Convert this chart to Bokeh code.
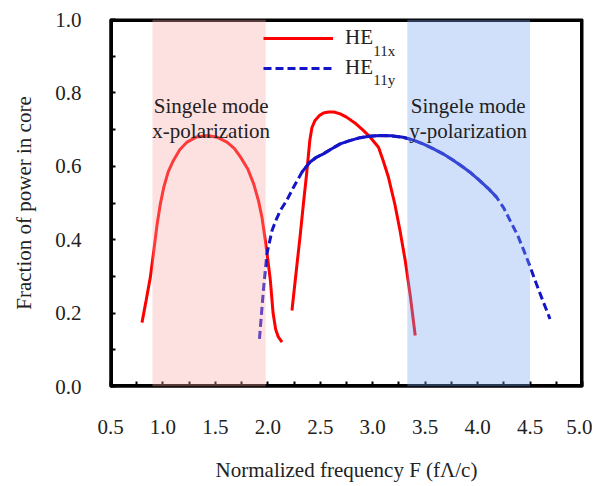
from bokeh.plotting import figure
from bokeh.models import (BoxAnnotation, Legend, LegendItem, Label, FixedTicker,
                          Range1d, PrintfTickFormatter)
from bokeh.embed import file_html
from bokeh.resources import INLINE

# ---------------- data ----------------
he11x_a_x = [0.80, 0.84, 0.88, 0.915, 0.945, 0.975, 1.008, 1.05, 1.10, 1.16, 1.23, 1.32,
             1.42, 1.52, 1.61, 1.68, 1.74, 1.81, 1.865, 1.91, 1.944, 1.976, 2.00, 2.024,
             2.05, 2.075, 2.10, 2.135]
he11x_a_y = [0.174, 0.235, 0.298, 0.375, 0.443, 0.497, 0.543, 0.585, 0.616, 0.645, 0.666,
             0.680, 0.684, 0.679, 0.666, 0.649, 0.625, 0.592, 0.552, 0.507, 0.461, 0.398,
             0.345, 0.289, 0.200, 0.155, 0.135, 0.121]

he11x_b_x = [2.23, 2.27, 2.31, 2.34, 2.37, 2.40, 2.42, 2.45, 2.49, 2.53, 2.58, 2.63, 2.69,
             2.75, 2.83, 2.91, 2.98, 3.055, 3.10, 3.15, 3.21, 3.26, 3.31, 3.36, 3.405]
he11x_b_y = [0.207, 0.312, 0.416, 0.500, 0.580, 0.670, 0.705, 0.725, 0.738, 0.745, 0.748,
             0.748, 0.743, 0.734, 0.718, 0.698, 0.678, 0.652, 0.615, 0.570, 0.498, 0.425,
             0.343, 0.243, 0.139]

he11y_x = [1.92, 1.96, 1.99, 2.04, 2.08, 2.12, 2.18, 2.245, 2.325, 2.40, 2.46, 2.53, 2.61,
           2.69, 2.78, 2.88, 2.97, 3.07, 3.18, 3.29, 3.38, 3.48, 3.57, 3.67, 3.76, 3.86,
           3.94, 4.02, 4.10, 4.18, 4.25, 4.31, 4.38, 4.44, 4.50, 4.56, 4.62, 4.69]
he11y_y = [0.130, 0.270, 0.360, 0.425, 0.455, 0.480, 0.507, 0.543, 0.584, 0.611, 0.624,
           0.634, 0.648, 0.661, 0.670, 0.678, 0.682, 0.684, 0.683, 0.679, 0.672, 0.661,
           0.649, 0.634, 0.618, 0.598, 0.581, 0.561, 0.540, 0.516, 0.486, 0.452, 0.413,
           0.371, 0.327, 0.280, 0.235, 0.184]

x_band = [0.9, 1.98]   # single mode x-polarization
y_band = [3.33, 4.5]   # single mode y-polarization

x_major = [0.5, 1.0, 1.5, 2.0, 2.5, 3.0, 3.5, 4.0, 4.5, 5.0]
x_minor = [0.75, 1.25, 1.75, 2.25, 2.75, 3.25, 3.75, 4.25, 4.75]
y_major = [0.0, 0.2, 0.4, 0.6, 0.8, 1.0]
y_minor = [0.1, 0.3, 0.5, 0.7, 0.9]

SERIF = "Liberation Serif"

p = figure(width=592, height=485, output_backend="svg", toolbar_location=None,
           x_range=Range1d(0.5, 5.0), y_range=Range1d(0.0, 1.0),
           min_border_left=110, min_border_right=10, min_border_top=19,
           min_border_bottom=99)
p.grid.visible = False
p.outline_line_color = "black"
p.outline_line_width = 2
p.outline_line_alpha = 1.0

p.xaxis.ticker = FixedTicker(ticks=x_major, minor_ticks=x_minor)
p.yaxis.ticker = FixedTicker(ticks=y_major, minor_ticks=y_minor)
p.axis.formatter = PrintfTickFormatter(format="%.1f")
for ax in (p.xaxis[0], p.yaxis[0]):
    ax.axis_line_width = 2
    ax.axis_line_alpha = 1.0
    ax.axis_line_color = "black"
    ax.major_tick_in = 5
    ax.major_tick_out = 0
    ax.minor_tick_in = 5
    ax.minor_tick_out = 0
    ax.major_tick_line_width = 2
    ax.minor_tick_line_width = 2
    ax.major_tick_line_color = "black"
    ax.minor_tick_line_color = "black"
    ax.major_label_text_font = SERIF
    ax.major_label_text_font_size = "21px"
    ax.major_label_text_color = "#222222"
    ax.axis_label_text_font = SERIF
    ax.axis_label_text_font_size = "21px"
    ax.axis_label_text_font_style = "normal"
    ax.axis_label_text_color = "#222222"
p.xaxis.major_label_standoff = 33
p.yaxis.major_label_standoff = 29
p.xaxis.axis_label = "Normalized frequency F (f\u039b/c)"
p.yaxis.axis_label = "Fraction of power in core"
p.xaxis.axis_label_standoff = 21
p.yaxis.axis_label_standoff = 16

RED = "#ff0000"
BLUE = "#1414c8"

r_xa = p.line(he11x_a_x, he11x_a_y, line_color=RED, line_width=3)
r_xb = p.line(he11x_b_x, he11x_b_y, line_color=RED, line_width=3)
r_y = p.line(he11y_x, he11y_y, line_color=BLUE, line_width=3, line_dash="8 4")
# dense middle part of the HE11y curve appears solid
p.line(he11y_x[8:30], he11y_y[8:30], line_color=BLUE, line_width=3)

# frame box as a glyph (backs up the outline)
p.quad(left=[x_major[0]], right=[x_major[-1]], bottom=[y_major[0]], top=[y_major[-1]],
       fill_alpha=0, line_color="#000000", line_width=5)

p.add_layout(BoxAnnotation(left=x_band[0], right=x_band[1], fill_color="#f9a8a8",
                           fill_alpha=0.35, line_color=None))
p.add_layout(BoxAnnotation(left=y_band[0], right=y_band[1], fill_color="#79a6f0",
                           fill_alpha=0.35, line_color=None))

for xx, yy, t in [(1.46, 0.763, "Singele mode"), (1.46, 0.695, "x-polarization"),
                  (3.91, 0.763, "Singele mode"), (3.91, 0.695, "y-polarization")]:
    p.add_layout(Label(x=xx, y=yy, text=t, text_align="center", text_baseline="alphabetic",
                       text_font=SERIF, text_font_size="21px", text_color="#222222"))

legend = Legend(items=[LegendItem(label="HE", renderers=[r_xa]),
                       LegendItem(label="HE", renderers=[r_y])],
                location=(153, 306), border_line_alpha=0, background_fill_alpha=0,
                padding=0, margin=0, spacing=5, glyph_width=70, glyph_height=24,
                label_height=24, label_standoff=12, label_text_font=SERIF,
                label_text_font_size="21px", label_text_baseline="middle",
                label_text_color="#222222")
p.add_layout(legend)

for yy, t in [(0.913, "11x"), (0.834, "11y")]:
    p.add_layout(Label(x=3.005, y=yy, text=t, text_align="left", text_baseline="alphabetic",
                       text_font=SERIF, text_font_size="15px", text_color="#222222"))

open("out.html", "w").write(file_html(p, INLINE))
